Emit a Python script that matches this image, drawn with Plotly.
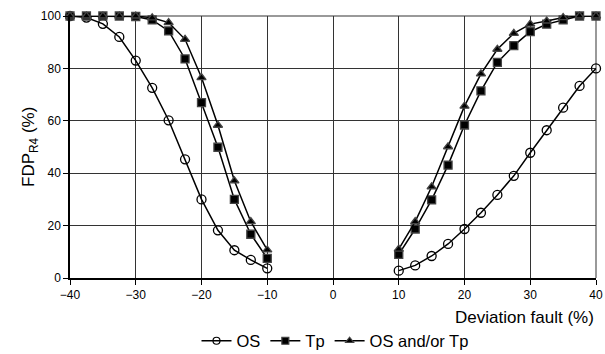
import plotly.graph_objects as go

x_left = [-40, -37.5, -35, -32.5, -30, -27.5, -25, -22.5, -20, -17.5, -15, -12.5, -10]
x_right = [10, 12.5, 15, 17.5, 20, 22.5, 25, 27.5, 30, 32.5, 35, 37.5, 40]

os_left = [100, 99.4, 97, 92, 83, 72.6, 60.2, 45.3, 30, 18.2, 10.6, 6.9, 3.7]
os_right = [2.8, 4.8, 8.4, 13, 18.7, 24.9, 31.7, 39, 47.8, 56.4, 65, 73.3, 80]
tp_left = [100, 100, 100, 100, 99.8, 98.5, 94.3, 83.6, 66.9, 49.9, 30, 16.7, 7.5]
tp_right = [9, 18.7, 29.8, 43.1, 58.4, 71.4, 82.3, 88.7, 94, 96.9, 98.5, 100, 100]
both_left = [100, 100, 100, 100, 100, 99.3, 97.5, 91.1, 76.5, 58.3, 37.1, 21.5, 10.7]
both_right = [11, 21.5, 34.8, 50.1, 65.6, 77.9, 87.3, 93.4, 96.9, 98.1, 99.4, 100, 100]

x_all = x_left + [None] + x_right

series = [
    ("OS", os_left + [None] + os_right, "circle-open", 9, 7),
    ("Tp", tp_left + [None] + tp_right, "square", 8, 7),
    ("OS and/or Tp", both_left + [None] + both_right, "triangle-up", 8, 7),
]

FONT = "Liberation Sans"

fig = go.Figure()
for name, ys, sym, sz, lsz in series:
    fig.add_trace(go.Scatter(
        x=x_all, y=ys, name=name, mode="lines+markers", showlegend=False,
        line=dict(color="black", width=1.5),
        marker=dict(symbol=sym, size=sz, color="black", line=dict(width=1.3)),
        connectgaps=False, cliponaxis=False,
    ))
for name, ys, sym, sz, lsz in series:
    # legend-only entry with the smaller legend glyphs of the reference
    fig.add_trace(go.Scatter(
        x=[None], y=[None], name=name, mode="lines+markers",
        line=dict(color="black", width=1.5),
        marker=dict(symbol=sym, size=lsz, color="black", line=dict(width=1.2)),
    ))

fig.update_layout(
    width=605, height=354,
    margin=dict(l=70, r=9, t=16, b=76, autoexpand=False),
    paper_bgcolor="white", plot_bgcolor="white",
    font=dict(family=FONT, color="black", size=12),
    showlegend=True,
    legend=dict(orientation="h", x=335 / 605, xanchor="center", xref="container",
                y=1 - 341 / 354, yanchor="middle", yref="container",
                font=dict(size=16.5, family=FONT),
                tracegroupgap=0, itemsizing="trace"),
    annotations=[
        dict(text="Deviation fault (%)", xref="paper", yref="paper",
             x=1, xanchor="right", y=-39 / 262, yanchor="middle",
             showarrow=False, font=dict(size=17, family=FONT)),
        dict(text="FDP<sub>R4</sub> (%)", xref="paper", yref="paper",
             x=-40 / 526, xanchor="center", y=0.5, yanchor="middle",
             textangle=-90, showarrow=False, font=dict(size=17, family=FONT)),
    ],
)
fig.update_xaxes(
    range=[-40, 40], tickvals=list(range(-40, 41, 10)),
    showgrid=True, gridcolor="#333333", gridwidth=1,
    showline=True, linecolor="black", linewidth=1.5,
    ticks="outside", ticklen=5, tickcolor="black",
    zeroline=False, automargin=False,
)
fig.update_yaxes(
    range=[0, 100], tickvals=list(range(0, 101, 20)),
    showgrid=True, gridcolor="#333333", gridwidth=1,
    showline=True, linecolor="black", linewidth=1.5,
    ticks="outside", ticklen=5, tickcolor="black",
    zeroline=False, automargin=False,
)
# right & top borders (gray)
fig.add_shape(type="line", xref="paper", yref="paper", x0=1, x1=1, y0=0, y1=1,
              line=dict(color="#777777", width=1.5), layer="below")
fig.add_shape(type="line", xref="paper", yref="paper", x0=0, x1=1, y0=1, y1=1,
              line=dict(color="#777777", width=1.5), layer="below")

fig.write_html("out.html")
